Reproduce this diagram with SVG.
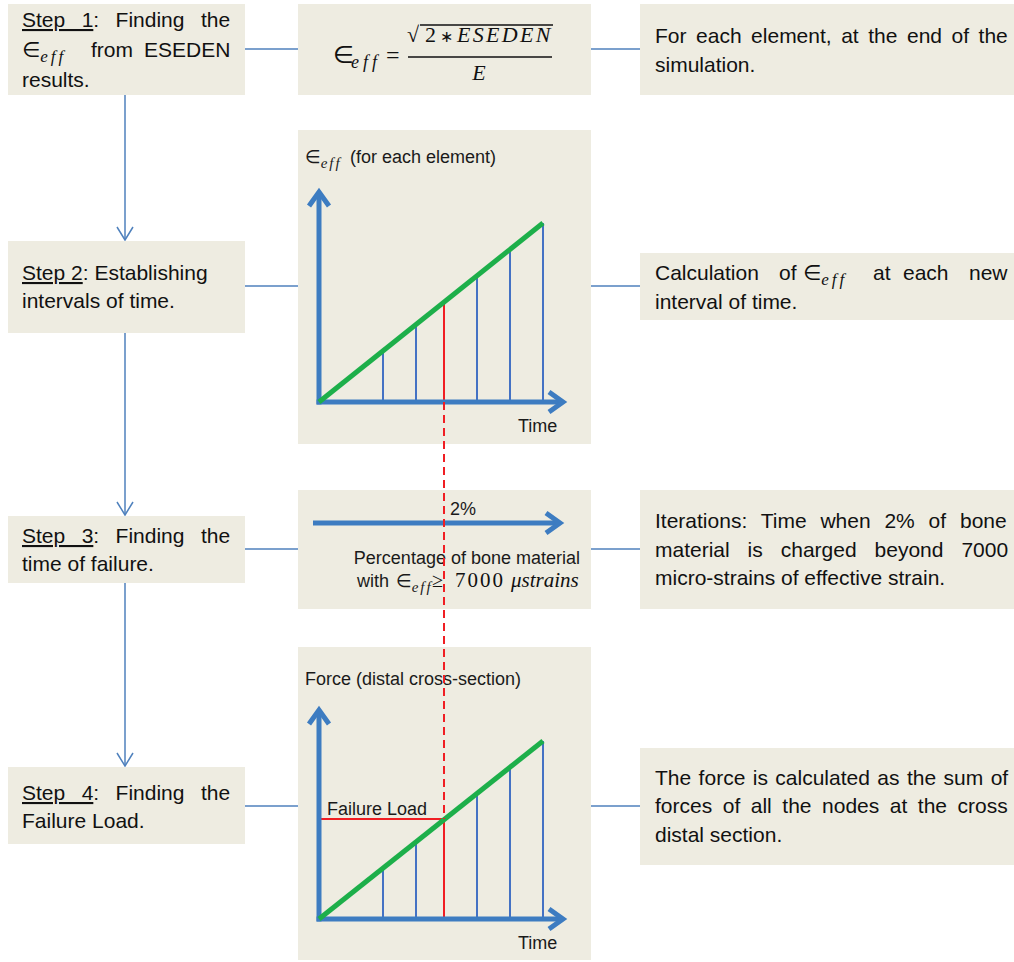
<svg xmlns="http://www.w3.org/2000/svg" width="1014" height="962" viewBox="0 0 1014 962">
<defs>
<style>
.box{fill:#EEECE1;}
.t{font-family:"Liberation Sans",Arial,sans-serif;font-size:21px;fill:#111;}
.c{font-family:"Liberation Sans",Arial,sans-serif;font-size:18px;fill:#1a1a1a;}
.sym{font-family:"DejaVu Sans",sans-serif;}
.sub{font-family:"Liberation Serif","DejaVu Serif",serif;font-style:italic;font-size:17px;letter-spacing:3px;}
.csub{font-family:"Liberation Serif","DejaVu Serif",serif;font-style:italic;font-size:15px;letter-spacing:2px;}
.m{font-family:"Liberation Serif","DejaVu Serif",serif;fill:#111;}
.mi{font-style:italic;}
.conn{stroke:#4F81BD;stroke-width:1.5;fill:none;}
.axis{stroke:#3D7CC1;stroke-width:5;fill:none;}
.tick{stroke:#4472C4;stroke-width:2;fill:none;}
.green{stroke:#1DAF4A;stroke-width:5;fill:none;}
.red{stroke:#F01E23;stroke-width:2;fill:none;}
.dash{stroke:#F01E23;stroke-width:2;fill:none;stroke-dasharray:8 5;}
</style>
<marker id="openArrow" markerUnits="userSpaceOnUse" viewBox="-15 -10 17 20" refX="0" refY="0" markerWidth="17" markerHeight="20" orient="auto" overflow="visible">
<path d="M-13,-8 L0,0 L-13,8" fill="none" stroke="#4F81BD" stroke-width="1.5"/>
</marker>
<marker id="axisArrow" markerUnits="userSpaceOnUse" viewBox="-20 -14 24 28" refX="0" refY="0" markerWidth="24" markerHeight="28" orient="auto" overflow="visible">
<path d="M-14,-10 L0,0 L-14,10" fill="none" stroke="#3D7CC1" stroke-width="5"/>
</marker>
</defs>
<rect width="1014" height="962" fill="#FFFFFF"/>

<g id="connectors">
<line class="conn" x1="245" y1="49" x2="298" y2="49"/>
<line class="conn" x1="591" y1="49" x2="640" y2="49"/>
<line class="conn" x1="245" y1="286" x2="298" y2="286"/>
<line class="conn" x1="591" y1="286" x2="640" y2="286"/>
<line class="conn" x1="245" y1="549" x2="298" y2="549"/>
<line class="conn" x1="591" y1="549" x2="640" y2="549"/>
<line class="conn" x1="245" y1="806" x2="298" y2="806"/>
<line class="conn" x1="591" y1="806" x2="640" y2="806"/>
<line class="conn" x1="125" y1="95" x2="125" y2="240" marker-end="url(#openArrow)"/>
<line class="conn" x1="125" y1="333" x2="125" y2="515" marker-end="url(#openArrow)"/>
<line class="conn" x1="125" y1="583" x2="125" y2="766" marker-end="url(#openArrow)"/>
</g>

<g id="step1">
<rect class="box" x="8" y="4" width="237" height="91"/>
<text class="t" x="22" y="27" style="word-spacing:10.6px"><tspan text-decoration="underline">Step 1</tspan>: Finding the</text>
<text class="t" y="57"><tspan x="22" class="sym">∈</tspan><tspan class="sub" dy="5">eff</tspan><tspan x="91" dy="-5">from</tspan><tspan x="144">ESEDEN</tspan></text>
<text class="t" x="22" y="87">results.</text>
</g>

<g id="formula">
<rect class="box" x="298" y="4" width="293" height="91"/>
<text class="m" y="63" font-size="24"><tspan x="333" class="sym">∈</tspan><tspan x="351" dy="5" class="mi" font-size="18" letter-spacing="4">eff</tspan><tspan x="386" dy="-5">=</tspan></text>
<text class="m" y="42" font-size="22"><tspan x="407">√</tspan><tspan x="425">2</tspan><tspan x="440" class="sym" font-size="16">∗</tspan><tspan x="457" class="mi" letter-spacing="2.3">ESEDEN</tspan></text>
<line x1="420" y1="25" x2="553" y2="25" stroke="#111" stroke-width="1.3"/>
<line x1="408" y1="57" x2="552" y2="57" stroke="#111" stroke-width="1.5"/>
<text class="m mi" x="479" y="80" font-size="22" text-anchor="middle">E</text>
</g>

<g id="note1">
<rect class="box" x="640" y="4" width="374" height="91"/>
<text class="t" x="655" y="43" style="word-spacing:3.7px">For each element, at the end of the</text>
<text class="t" x="655" y="72">simulation.</text>
</g>

<g id="step2">
<rect class="box" x="8" y="241" width="237" height="92"/>
<text class="t" x="22" y="280"><tspan text-decoration="underline">Step 2</tspan>: Establishing</text>
<text class="t" x="22" y="308">intervals of time.</text>
</g>

<g id="chart1">
<rect class="box" x="298" y="130" width="293" height="314"/>
<text class="c" y="163"><tspan x="305" class="sym">∈</tspan><tspan class="csub" dy="5">eff</tspan><tspan x="350" dy="-5">(for each element)</tspan></text>
<line class="tick" x1="383" y1="402" x2="383" y2="351"/>
<line class="tick" x1="416" y1="402" x2="416" y2="324.5"/>
<line class="tick" x1="477" y1="402" x2="477" y2="275.7"/>
<line class="tick" x1="510" y1="402" x2="510" y2="249.4"/>
<line class="tick" x1="543" y1="402" x2="543" y2="223"/>
<line class="red" x1="444" y1="302" x2="444" y2="402"/>
<line class="axis" x1="319" y1="404.5" x2="319" y2="192" marker-end="url(#axisArrow)"/>
<line class="axis" x1="316.5" y1="402" x2="563" y2="402" marker-end="url(#axisArrow)"/>
<line class="green" x1="319" y1="402" x2="543" y2="223"/>
<text class="c" x="518" y="432">Time</text>
</g>

<g id="note2">
<rect class="box" x="640" y="253" width="374" height="67"/>
<text class="t" y="280"><tspan x="655">Calculation</tspan><tspan x="779">of</tspan><tspan x="803" class="sym">∈</tspan><tspan class="sub" dy="5">eff</tspan><tspan x="873" dy="-5">at</tspan><tspan x="903">each</tspan><tspan x="969">new</tspan></text>
<text class="t" x="655" y="309">interval of time.</text>
</g>

<g id="step3">
<rect class="box" x="8" y="516" width="237" height="67"/>
<text class="t" x="22" y="543" style="word-spacing:10.6px"><tspan text-decoration="underline">Step 3</tspan>: Finding the</text>
<text class="t" x="22" y="571">time of failure.</text>
</g>

<g id="percentage">
<rect class="box" x="298" y="490" width="293" height="119"/>
<line class="axis" x1="313" y1="523" x2="560" y2="523" marker-end="url(#axisArrow)"/>
<text class="c" x="450" y="515">2%</text>
<text class="c" x="580" y="564" text-anchor="end">Percentage of bone material</text>
<text class="c" y="587"><tspan x="357">with</tspan><tspan x="396" class="sym">∈</tspan><tspan class="csub" dy="5">eff</tspan><tspan x="432" dy="-5" class="m" font-size="20">≥</tspan><tspan x="455" class="m" font-size="21" letter-spacing="2">7000</tspan><tspan x="511" class="m mi" font-size="21">μstrains</tspan></text>
</g>

<g id="note3">
<rect class="box" x="640" y="490" width="374" height="119"/>
<text class="t" x="655" y="528" style="word-spacing:8px">Iterations: Time when 2% of bone</text>
<text class="t" x="655" y="557" style="word-spacing:12.1px">material is charged beyond 7000</text>
<text class="t" x="655" y="585">micro-strains of effective strain.</text>
</g>

<g id="step4">
<rect class="box" x="8" y="767" width="237" height="77"/>
<text class="t" x="22" y="800" style="word-spacing:10.6px"><tspan text-decoration="underline">Step 4</tspan>: Finding the</text>
<text class="t" x="22" y="828">Failure Load.</text>
</g>

<g id="chart2">
<rect class="box" x="298" y="647" width="293" height="313"/>
<text class="c" x="305" y="685">Force (distal cross-section)</text>
<line class="tick" x1="383" y1="919" x2="383" y2="868"/>
<line class="tick" x1="416" y1="919" x2="416" y2="842"/>
<line class="tick" x1="477" y1="919" x2="477" y2="793.4"/>
<line class="tick" x1="510" y1="919" x2="510" y2="767.2"/>
<line class="tick" x1="543" y1="919" x2="543" y2="741"/>
<line class="red" x1="444" y1="819" x2="444" y2="919"/>
<line class="red" x1="319" y1="819" x2="444" y2="819"/>
<text class="c" x="327" y="815">Failure Load</text>
<line class="axis" x1="319" y1="921.5" x2="319" y2="710" marker-end="url(#axisArrow)"/>
<line class="axis" x1="316.5" y1="919" x2="563" y2="919" marker-end="url(#axisArrow)"/>
<line class="green" x1="319" y1="919" x2="543" y2="741"/>
<text class="c" x="518" y="949">Time</text>
</g>

<g id="note4">
<rect class="box" x="640" y="748" width="374" height="117"/>
<text class="t" x="655" y="785" style="word-spacing:1.6px">The force is calculated as the sum of</text>
<text class="t" x="655" y="813" style="word-spacing:4.7px">forces of all the nodes at the cross</text>
<text class="t" x="655" y="842">distal section.</text>
</g>

<g id="failure-link">
<line class="dash" x1="444" y1="402" x2="444" y2="819"/>
</g>
</svg>
